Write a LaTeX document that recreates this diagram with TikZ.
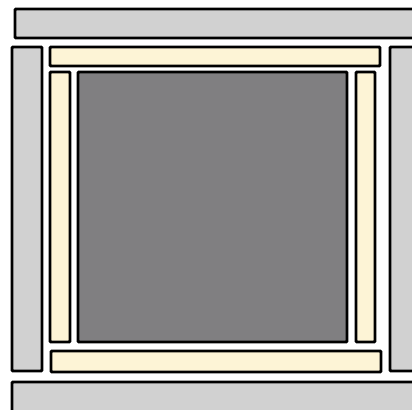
\documentclass[tikz,border=0pt]{standalone}
\usepackage{xcolor}
\usepackage{tikz}
\definecolor{slabgray}{HTML}{D1D1D1}
\definecolor{slabcream}{HTML}{FDF4D6}
\definecolor{coregray}{HTML}{807F81}
\tikzset{
  grayslab/.style={draw=black,fill=slabgray,line width=2.2pt,rounded corners=0.8pt},
  creamslab/.style={draw=black,fill=slabcream,line width=2.2pt,rounded corners=0.8pt},
  darkcore/.style={draw=black,fill=coregray,line width=2.2pt,rounded corners=0.8pt}
}

\begin{document}
\begin{tikzpicture}[x=0.75pt,y=-0.75pt]
\useasboundingbox (0,0) rectangle (412,410);
\clip (0,0) rectangle (412,410);
% outer grey frame
\draw[grayslab] (15,9) rectangle (430,38);
\draw[grayslab] (12,47) rectangle (42,371);
\draw[grayslab] (390,47) rectangle (430,371);
\draw[grayslab] (12,382) rectangle (430,430);
% cream strips
\draw[creamslab] (50,47) rectangle (380,66);
\draw[creamslab] (50,72) rectangle (70,342);
\draw[creamslab] (356,72) rectangle (375,342);
\draw[creamslab] (51,351) rectangle (381,372);
% centre block
\draw[darkcore] (78,72) rectangle (347,342);
\end{tikzpicture}
\end{document}
